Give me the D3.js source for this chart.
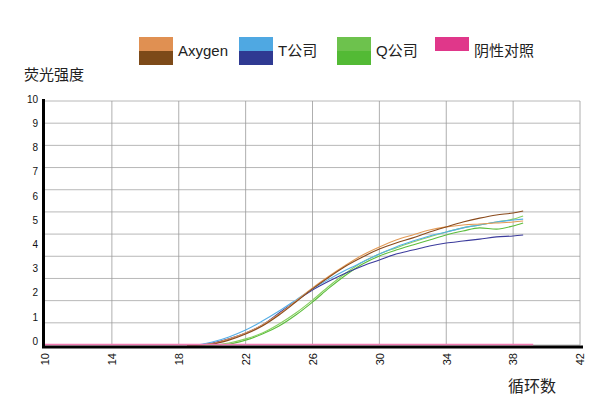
<!DOCTYPE html>
<html lang="zh">
<head>
<meta charset="UTF-8">
<title>荧光强度曲线</title>
<script src="https://d3js.org/d3.v7.min.js"></script>
<style>
  body { margin: 0; background: #fff; }
  svg { display: block; }
  .tick text { font-family: "Liberation Sans", Arial, sans-serif; fill: #111; }
</style>
</head>
<body>
<div id="chart"></div>
<script>
// cycles at which the amplification curves were sampled
const cycles = [18.5, 19, 20, 21, 22, 23, 24, 25, 26, 27, 28, 29, 30, 31, 32, 33, 34, 35, 36, 37, 38, 38.6];

// fluorescence values per curve (two replicates per kit)
const axygenLight = [0, 0, 0.06, 0.25, 0.49, 0.82, 1.27, 1.8, 2.34, 2.83, 3.28, 3.69, 4.02, 4.3, 4.51, 4.71, 4.84, 4.92, 4.96, 5.0, 5.04, 5.08];
const axygenDark  = [0, 0, 0.04, 0.2, 0.45, 0.78, 1.23, 1.76, 2.3, 2.79, 3.24, 3.61, 3.93, 4.18, 4.39, 4.63, 4.84, 5.04, 5.2, 5.33, 5.41, 5.49];
const tLight      = [0, 0, 0.12, 0.33, 0.61, 0.98, 1.39, 1.84, 2.3, 2.7, 3.07, 3.4, 3.73, 4.02, 4.26, 4.47, 4.63, 4.8, 4.92, 5.04, 5.12, 5.16];
const tDark       = [0, 0, 0.08, 0.25, 0.49, 0.82, 1.31, 1.8, 2.25, 2.62, 2.95, 3.24, 3.48, 3.73, 3.89, 4.06, 4.18, 4.26, 4.34, 4.43, 4.47, 4.51];
const qLight      = [0, 0, 0, 0.08, 0.25, 0.49, 0.86, 1.31, 1.84, 2.42, 2.95, 3.4, 3.73, 3.98, 4.22, 4.43, 4.63, 4.8, 4.92, 5.04, 5.16, 5.29];
const qDark       = [0, 0, 0, 0.04, 0.2, 0.45, 0.78, 1.23, 1.76, 2.34, 2.87, 3.32, 3.65, 3.89, 4.1, 4.3, 4.51, 4.67, 4.8, 4.75, 4.88, 5.0];

// negative control stays flat
const negCycles = [10, 39.2];
const negValues = [0, 0];

const xTicks = [10, 14, 18, 22, 26, 30, 34, 38, 42];
const yTicks = [0, 1, 2, 3, 4, 5, 6, 7, 8, 9, 10];

const legendItems = [
  { label: "Axygen", top: "#e09052", bottom: "#7d4a19", x: 139 },
  { label: "T公司", top: "#4fa8e2", bottom: "#2f3a92", x: 239 },
  { label: "Q公司", top: "#6dc24d", bottom: "#53ba35", x: 337 },
  { label: "阴性对照", top: "#e0378a", bottom: null, x: 435 }
];

const curves = [
  { values: qDark, color: "#5cbd3c" },
  { values: qLight, color: "#86d060" },
  { values: tDark, color: "#3b3b9c" },
  { values: tLight, color: "#55aee6" },
  { values: axygenLight, color: "#e39a55" },
  { values: axygenDark, color: "#8a4a1c" }
];

const width = 593, height = 398;
const plot = { left: 45, right: 580, top: 101, bottom: 345 };

const svg = d3.select("#chart").append("svg")
  .attr("width", width)
  .attr("height", height);

const x = d3.scaleLinear().domain([10, 42]).range([plot.left, plot.right]);
const y = d3.scaleLinear().domain([0, 10]).range([plot.bottom, plot.top]);
// tick labels sit a little off the grid in the original
const yLab = d3.scaleLinear().domain([0, 10]).range([341, 99]);
const yGrid = d3.scaleLinear().domain([0, 11]).range([plot.bottom, plot.top]);

// grid
svg.append("g").selectAll("line.h")
  .data(d3.range(12))
  .join("line")
  .attr("x1", plot.left).attr("x2", plot.right)
  .attr("y1", d => yGrid(d)).attr("y2", d => yGrid(d))
  .attr("stroke", "#a6a6a6").attr("stroke-width", 0.8);

svg.append("g").selectAll("line.v")
  .data(xTicks.slice(1))
  .join("line")
  .attr("x1", d => x(d)).attr("x2", d => x(d))
  .attr("y1", plot.top).attr("y2", plot.bottom)
  .attr("stroke", "#9a9a9a").attr("stroke-width", 0.8);

// axes
const yAxis = svg.append("g")
  .attr("transform", "translate(38,0)")
  .call(d3.axisLeft(yLab).tickValues(yTicks).tickSize(0).tickPadding(0));
yAxis.select(".domain").remove();
yAxis.selectAll("text").attr("font-size", 10);

const xAxis = svg.append("g")
  .attr("transform", `translate(0,353)`)
  .call(d3.axisBottom(x).tickValues(xTicks).tickSize(0).tickPadding(0));
xAxis.select(".domain").remove();
xAxis.selectAll("text")
  .attr("font-size", 11)
  .attr("text-anchor", "end")
  .attr("transform", "rotate(-90)")
  .attr("x", 0).attr("y", 0).attr("dy", "0.35em");

// curves
const line = d3.line()
  .x((d, i) => x(cycles[i]))
  .y(d => y(d))
  .curve(d3.curveMonotoneX);

svg.append("g").selectAll("path")
  .data(curves)
  .join("path")
  .attr("d", d => line(d.values))
  .attr("fill", "none")
  .attr("stroke", d => d.color)
  .attr("stroke-width", 1.1);

// axis lines
svg.append("line")
  .attr("x1", 43.5).attr("x2", 43.5).attr("y1", 99).attr("y2", 348)
  .attr("stroke", "#000").attr("stroke-width", 3);
svg.append("line")
  .attr("x1", 42).attr("x2", 583).attr("y1", 347).attr("y2", 347)
  .attr("stroke", "#000").attr("stroke-width", 3);

// negative control
svg.append("path")
  .attr("d", d3.line().x((d, i) => x(negCycles[i])).y(d => y(d) - 0.5)(negValues))
  .attr("stroke", "#f07ab2")
  .attr("stroke-width", 1.6)
  .attr("fill", "none");

// legend
const legend = svg.append("g");
legendItems.forEach(item => {
  legend.append("rect")
    .attr("x", item.x).attr("y", 37).attr("width", 34).attr("height", 14)
    .attr("fill", item.top);
  if (item.bottom) {
    legend.append("rect")
      .attr("x", item.x).attr("y", 51).attr("width", 34).attr("height", 14)
      .attr("fill", item.bottom);
  }
  legend.append("text")
    .attr("x", item.x + 39).attr("y", 56)
    .attr("font-family", "'Liberation Sans', 'Noto Sans CJK SC', sans-serif")
    .attr("font-size", 15)
    .attr("fill", "#222")
    .text(item.label);
});

// axis titles
svg.append("text")
  .attr("x", 24).attr("y", 80)
  .attr("font-family", "'Noto Sans CJK SC', sans-serif")
  .attr("font-size", 15)
  .attr("fill", "#222")
  .text("荧光强度");

svg.append("text")
  .attr("x", 508).attr("y", 392)
  .attr("font-family", "'Noto Sans CJK SC', sans-serif")
  .attr("font-size", 16)
  .attr("fill", "#222")
  .text("循环数");
</script>
</body>
</html>
